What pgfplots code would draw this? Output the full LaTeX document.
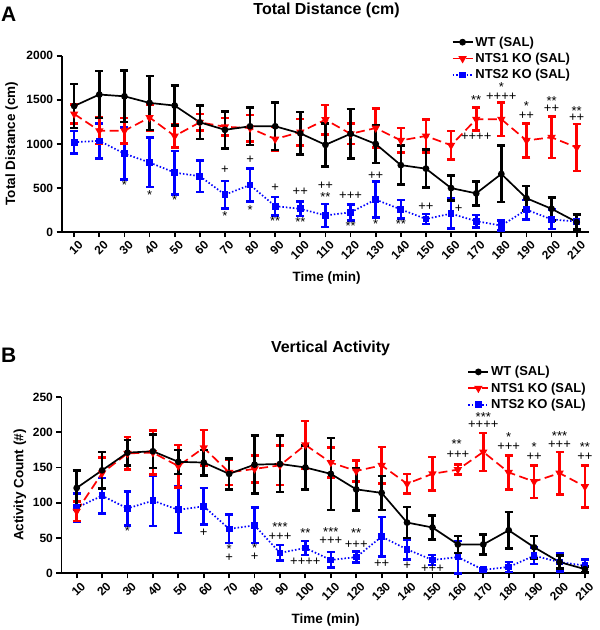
\documentclass[border=0pt]{standalone}
\usepackage{fontspec}
\setmainfont{Liberation Sans}
\usepackage{pgfplots}
\usepackage{pgfplotstable}
\pgfplotsset{compat=1.18}

\definecolor{wtcol}{RGB}{0,0,0}
\definecolor{ko1col}{RGB}{255,0,0}
\definecolor{ko2col}{RGB}{0,0,255}

% Panel A: total distance (cm), mean and error per 10-min bin
\pgfplotstableread{
t m e
10 1430 250
20 1560 265
30 1540 290
40 1465 305
50 1435 225
60 1245 190
70 1160 210
80 1200 210
90 1200 270
100 1120 240
110 990 245
120 1115 280
130 1000 215
140 760 220
150 720 215
160 500 140
170 440 135
180 660 320
190 385 140
200 265 130
210 115 85
}\wtA
\pgfplotstableread{
t m e
10 1340 105
20 1150 150
30 1150 145
40 1300 150
50 1090 130
60 1245 95
70 1195 100
80 1180 150
90 1055 135
100 1135 150
110 1275 165
120 1115 115
130 1180 220
140 1040 140
150 1090 185
160 985 160
170 1280 130
180 1280 190
190 1040 195
200 1075 235
210 960 265
}\koOneA
\pgfplotstableread{
t m e
10 1020 125
20 1035 200
30 890 295
40 790 280
50 675 245
60 635 180
70 425 155
80 535 190
90 295 105
100 265 80
110 190 130
120 225 90
130 370 205
140 258 105
150 150 55
160 210 170
170 125 70
180 75 55
190 255 110
200 145 110
210 120 85
}\koTwoA

% Panel B: vertical activity counts
\pgfplotstableread{
t m e
10 121 25
20 146 26
30 171 18
40 173 24
50 158 17
60 157 18
70 141 22
80 154 41
90 155 40
100 150 31
110 141 51
120 119 30
130 114 24
140 72 22
150 65 17
160 41 12
170 41 14
180 61 26
190 37 16
200 16 9
210 6 4
}\wtB
\pgfplotstableread{
t m e
10 88 14
20 142 22
30 170 23
40 171 31
50 152 30
60 178 25
70 143 18
80 148 19
90 153 28
100 182 34
110 157 21
120 145 15
130 153 26
140 127 14
150 141 24
160 147 7
170 172 27
180 143 24
190 130 23
200 142 30
210 123 30
}\koOneB
\pgfplotstableread{
t m e
10 93 20
20 110 25
30 92 24
40 103 36
50 90 33
60 95 26
70 63 20
80 68 25
90 29 11
100 36 10
110 19 11
120 23 8
130 52 28
140 34 14
150 19 7
160 23 23
170 5 2
180 9 7
190 25 12
200 16 13
210 11 9
}\koTwoB

% significance marks: boxes trimmed to the visible part of each glyph
\tikzset{
  ann/.style={font=\fontsize{13}{13}\selectfont, inner sep=0pt,
    text height=0.6em, text depth=-0.12em},
  st/.style={font=\fontsize{13}{13}\selectfont, inner sep=0pt,
    text height=0.73em, text depth=-0.42em},
}

\pgfplotsset{
  panel/.style={
    scale only axis,
    height=176.7pt,
    anchor=south west,
    axis lines*=left,
    axis line style={line width=1.8pt},
    every tick/.style={line width=1.8pt, black},
    tick align=outside,
    major tick length=5pt,
    xtick={10,20,...,210},
    ticklabel style={font=\bfseries\fontsize{12}{12}\selectfont},
    xticklabel style={rotate=45, anchor=north east, inner sep=1pt, xshift=1.5pt, yshift=-3.5pt},
    /pgf/number format/assume math mode=true,
    /pgf/number format/1000 sep={},
    clip=false,
    reverse legend,
    legend cell align=left,
    legend style={draw=none, fill=none, font=\bfseries\fontsize{13}{13}\selectfont,
      row sep=1.5pt, inner sep=0pt},
    legend image code/.code={%
      \draw[mark repeat=2,mark phase=2,##1] plot coordinates {(0pt,0pt) (10pt,0pt) (20pt,0pt)};},
    error bars/y dir=both,
    error bars/y explicit,
    error bars/error bar style={solid, line width=2.6pt},
    error bars/error mark options={rotate=90, mark size=4pt, line width=2.6pt, solid},
  },
  wt/.style={wtcol, line width=1.7pt, solid, mark=*, mark size=2.5pt, mark options={solid}},
  koone/.style={ko1col, line width=1.7pt, dash pattern=on 9pt off 4.5pt, mark=triangle*, mark size=3.2pt, mark options={solid, rotate=180}},
  kotwo/.style={ko2col, line width=1.7pt, dash pattern=on 1.5pt off 2pt, mark=square*, mark size=2.5pt, mark options={solid}},
}

\begin{document}
\begin{tikzpicture}
\path (0pt,0pt) rectangle (600pt,630pt);

% ---------------- Panel A ----------------
\begin{axis}[panel, at={(61.7pt,398.3pt)}, width=528.3pt,
  xmin=5, xmax=215, ymin=0, ymax=2000, ytick={0,500,1000,1500,2000},
  legend style={at={(axis description cs:0.739,1.12)}, anchor=north west}]
\addplot[kotwo] table[x=t, y=m, y error=e] {\koTwoA};
\addplot[koone] table[x=t, y=m, y error=e] {\koOneA};
\addplot[wt] table[x=t, y=m, y error=e] {\wtA};
\legend{NTS2 KO (SAL), NTS1 KO (SAL), WT (SAL)}
% significance marks
\node[st] at (axis cs:30,520) {*};
\node[st] at (axis cs:40,415) {*};
\node[st] at (axis cs:50,360) {*};
\node[ann] at (axis cs:70,700) {+};
\node[st] at (axis cs:70,178) {*};
\node[ann] at (axis cs:80,808) {+};
\node[st] at (axis cs:80,246) {*};
\node[ann] at (axis cs:90,500) {+};
\node[st] at (axis cs:90,115) {**};
\node[ann] at (axis cs:100,455) {++};
\node[st] at (axis cs:100,105) {**};
\node[ann] at (axis cs:110,515) {++};
\node[st] at (axis cs:110,392) {**};
\node[ann] at (axis cs:120,408) {+++};
\node[st] at (axis cs:120,64) {**};
\node[ann] at (axis cs:130,630) {++};
\node[st] at (axis cs:130,87) {*};
\node[st] at (axis cs:140,87) {**};
\node[ann] at (axis cs:150,283) {++};
\node[ann] at (axis cs:163,257) {+};
\node[st] at (axis cs:170,1491) {**};
\node[ann] at (axis cs:170,1068) {++++};
\node[st] at (axis cs:180,1634) {*};
\node[ann] at (axis cs:180,1528) {++++};
\node[st] at (axis cs:190,1423) {*};
\node[ann] at (axis cs:190,1310) {++};
\node[st] at (axis cs:200,1472) {**};
\node[ann] at (axis cs:200,1386) {++};
\node[st] at (axis cs:210,1366) {**};
\node[ann] at (axis cs:210,1284) {++};
\end{axis}

% ---------------- Panel B ----------------
\begin{axis}[panel, at={(61.5pt,56.7pt)}, width=528.5pt,
  xmin=4, xmax=211.7, ymin=0, ymax=250, ytick={0,50,100,150,200,250},
  legend style={at={(axis description cs:0.769,1.185)}, anchor=north west}]
\addplot[kotwo] table[x=t, y=m, y error=e] {\koTwoB};
\addplot[koone] table[x=t, y=m, y error=e] {\koOneB};
\addplot[wt] table[x=t, y=m, y error=e] {\wtB};
\legend{NTS2 KO (SAL), NTS1 KO (SAL), WT (SAL)}
\node[st] at (axis cs:30,59) {*};
\node[ann] at (axis cs:60,57) {+};
\node[st] at (axis cs:70,34) {*};
\node[ann] at (axis cs:70,21) {+};
\node[st] at (axis cs:80,35) {*};
\node[ann] at (axis cs:80,22) {+};
\node[st] at (axis cs:90,64) {***};
\node[ann] at (axis cs:90,51) {+++};
\node[st] at (axis cs:100,56) {**};
\node[ann] at (axis cs:100,15) {++++};
\node[st] at (axis cs:110,58) {***};
\node[ann] at (axis cs:110,45) {+++};
\node[st] at (axis cs:120,56) {**};
\node[ann] at (axis cs:120,40) {+++};
\node[ann] at (axis cs:130,13) {++};
\node[ann] at (axis cs:140,9.5) {+};
\node[ann] at (axis cs:150,5.6) {+++};
\node[st] at (axis cs:159.5,181.5) {**};
\node[ann] at (axis cs:160,167) {+++};
\node[st] at (axis cs:170,221) {***};
\node[ann] at (axis cs:170,210) {++++};
\node[st] at (axis cs:180,192) {*};
\node[ann] at (axis cs:180,178) {+++};
\node[st] at (axis cs:190,178) {*};
\node[ann] at (axis cs:190,164) {++};
\node[st] at (axis cs:200,193) {***};
\node[ann] at (axis cs:200,181) {+++};
\node[st] at (axis cs:210,178) {**};
\node[ann] at (axis cs:210,164) {++};
\end{axis}

% panel letters, titles and axis labels
\node[anchor=west, font=\bfseries\fontsize{21}{21}\selectfont, inner sep=0pt] at (1pt,616pt) {A};
\node[anchor=west, font=\bfseries\fontsize{21}{21}\selectfont, inner sep=0pt] at (1pt,275.5pt) {B};
\node[font=\bfseries\fontsize{16}{16}\selectfont] at (327pt,620pt) {Total Distance (cm)};
\node[font=\bfseries\fontsize{16}{16}\selectfont] at (331pt,282pt) {Vertical Activity};
\node[rotate=90, font=\bfseries\fontsize{13.5}{13.5}\selectfont] at (11.7pt,487pt) {Total Distance (cm)};
\node[rotate=90, font=\bfseries\fontsize{13.5}{13.5}\selectfont] at (20pt,145pt) {Activity Count (\#)};
\node[font=\bfseries\fontsize{13.5}{13.5}\selectfont] at (327pt,352pt) {Time (min)};
\node[font=\bfseries\fontsize{13.5}{13.5}\selectfont] at (326pt,10pt) {Time (min)};
\end{tikzpicture}
\end{document}
